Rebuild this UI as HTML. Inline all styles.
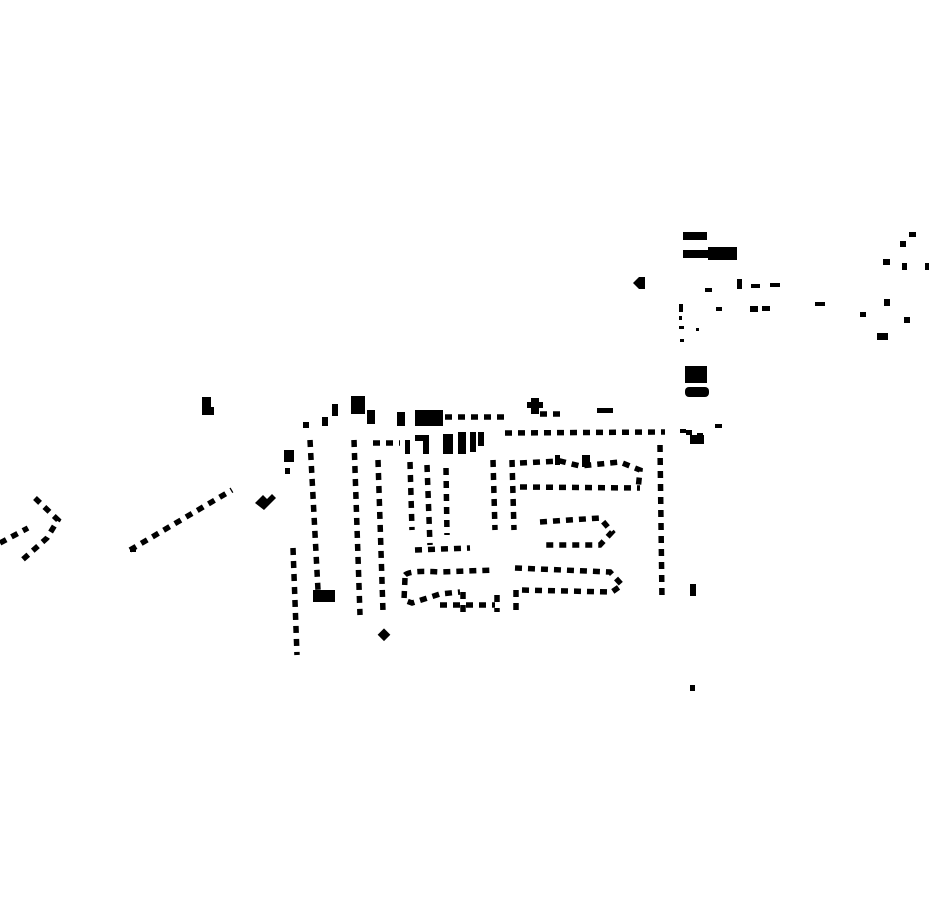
<!DOCTYPE html>
<html><head><meta charset="utf-8"><style>html,body{margin:0;padding:0;background:#fff}svg{display:block}</style></head>
<body>
<svg width="930" height="924" viewBox="0 0 930 924" xmlns="http://www.w3.org/2000/svg">
<g fill="#000">
<rect x="683" y="232" width="24" height="8"/>
<rect x="683" y="250" width="25" height="8"/>
<rect x="708" y="247" width="29" height="13"/>
<path d="M633 283 l6 -6 h6 v12 h-6z"/>
<rect x="705" y="288" width="7" height="4"/>
<rect x="737" y="279" width="5" height="10"/>
<rect x="751" y="284" width="9" height="4"/>
<rect x="770" y="283" width="10" height="4"/>
<rect x="716" y="307" width="6" height="4"/>
<rect x="750" y="306" width="8" height="6"/>
<rect x="762" y="306" width="8" height="5"/>
<rect x="815" y="302" width="10" height="4"/>
<rect x="679" y="304" width="4" height="8"/>
<rect x="679" y="316" width="3" height="4"/>
<rect x="679" y="326" width="5" height="3"/>
<rect x="696" y="328" width="3" height="3"/>
<rect x="680" y="339" width="4" height="3"/>
<rect x="685" y="366" width="22" height="17"/>
<rect x="685" y="387" width="24" height="10" rx="4"/>
<rect x="909" y="232" width="7" height="5"/>
<rect x="900" y="241" width="6" height="6"/>
<rect x="883" y="259" width="7" height="6"/>
<rect x="902" y="263" width="5" height="7"/>
<rect x="925" y="263" width="4" height="7"/>
<rect x="884" y="299" width="6" height="7"/>
<rect x="860" y="312" width="6" height="5"/>
<rect x="904" y="317" width="6" height="6"/>
<rect x="877" y="333" width="11" height="7"/>
<rect x="680" y="429" width="6" height="4"/>
<rect x="686" y="430" width="6" height="5"/>
<rect x="697" y="433" width="6" height="8"/>
<rect x="690" y="435" width="14" height="9"/>
<rect x="715" y="424" width="7" height="4"/>
<rect x="690" y="584" width="6" height="12"/>
<rect x="690" y="685" width="5" height="6"/>
<rect x="202" y="397" width="9" height="18"/>
<rect x="208" y="407" width="6" height="8"/>
<path d="M255 503 l8 -8 l4 4 l5 -5 l4 4 l-12 12z"/>
<rect x="284" y="450" width="10" height="12"/>
<rect x="285" y="468" width="5" height="6"/>
<rect x="130" y="547" width="6" height="5"/>
<rect x="380" y="630" width="9" height="9" transform="rotate(45 384 634)"/>
<rect x="351" y="396" width="14" height="18"/>
<rect x="367" y="410" width="8" height="14"/>
<rect x="397" y="412" width="8" height="14"/>
<rect x="415" y="410" width="28" height="16"/>
<rect x="332" y="404" width="6" height="12"/>
<rect x="322" y="417" width="6" height="9"/>
<rect x="303" y="422" width="6" height="6"/>
<rect x="531" y="398" width="8" height="16"/>
<rect x="527" y="402" width="16" height="6"/>
<rect x="597" y="408" width="16" height="5"/>
<rect x="443" y="434" width="10" height="20"/>
<rect x="458" y="432" width="8" height="22"/>
<rect x="470" y="432" width="6" height="20"/>
<rect x="478" y="432" width="6" height="14"/>
<rect x="415" y="435" width="14" height="6"/>
<rect x="423" y="440" width="6" height="14"/>
<rect x="405" y="440" width="5" height="14"/>
<rect x="313" y="590" width="22" height="12"/>
<rect x="582" y="455" width="8" height="12"/>
<rect x="555" y="455" width="5" height="10"/>
</g>
<g fill="none" stroke="#000" stroke-width="5.5" stroke-dasharray="7 6">
<path d="M130 550 L232 490"/>
<path d="M35 498 L58 520 L47 538 L20 562"/>
<path d="M0 543 L28 528"/>
<path d="M445 417 L510 417"/>
<path d="M540 414 L565 414"/>
<path d="M373 443 L400 443"/>
<path d="M505 433 L665 432"/>
<path d="M660 445 L662 600"/>
<path d="M293 548 L297 655"/>
<path d="M310 440 L318 590"/>
<path d="M354 440 L360 615"/>
<path d="M378 460 L383 612"/>
<path d="M410 462 L412 530"/>
<path d="M427 465 L430 545"/>
<path d="M446 468 L447 535"/>
<path d="M493 460 L495 530"/>
<path d="M512 460 L514 530"/>
<path d="M415 550 L470 548"/>
<path d="M520 487 L640 488"/>
<path d="M520 463 L560 461 L580 466 L620 462 L640 470 L638 490"/>
<path d="M540 522 L600 518 L612 532 L600 545 L545 545"/>
<path d="M405 575 Q410 570 440 572 L495 570"/>
<path d="M405 578 L404 600 L412 603 L440 594 L460 592"/>
<path d="M515 568 L610 572 L622 585 L612 592 L520 590"/>
<path d="M440 605 L495 605"/>
<path d="M497 595 L497 612"/>
<path d="M516 590 L516 612"/>
<path d="M463 592 L463 612"/>
</g>
</svg>
</body></html>
